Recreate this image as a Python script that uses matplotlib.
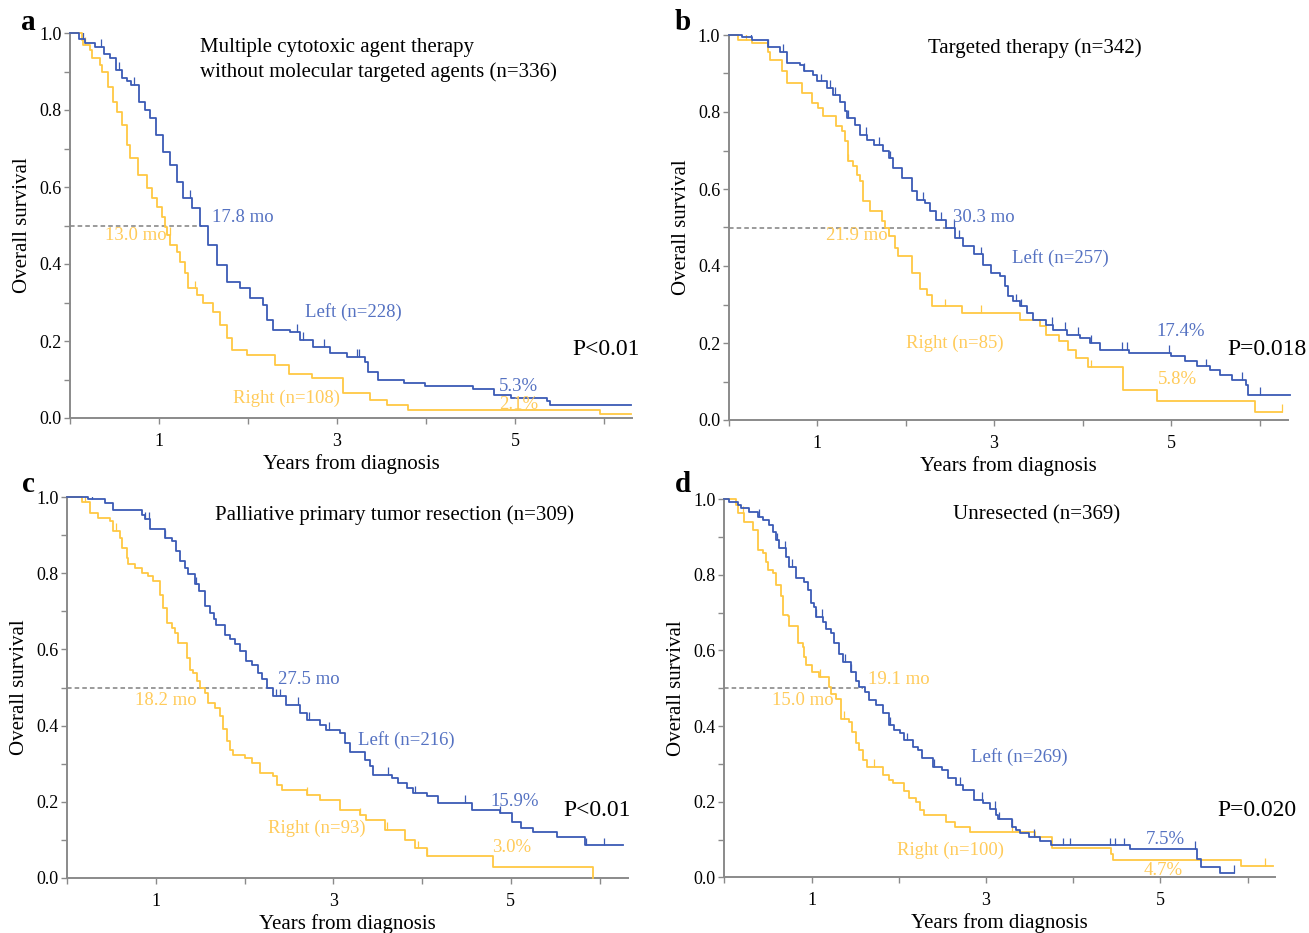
import numpy as np
import matplotlib
matplotlib.use("Agg")
import matplotlib.pyplot as plt
from matplotlib.ticker import FixedLocator

plt.rcParams["font.family"] = ["Liberation Serif", "DejaVu Serif"]

BLUE = "#3b5bb5"
BLUE_TXT = "#5572c2"
YELLOW = "#ffc843"
YELLOW_TXT = "#ffcb5a"

# ---- panel a: multiple cytotoxic agents ----
a_left_t = [0, 0.10, 0.17, 0.28, 0.38, 0.45, 0.52, 0.58, 0.64, 0.69, 0.77, 0.84, 0.90, 0.97, 1.05,
            1.12, 1.20, 1.27, 1.37, 1.46, 1.55, 1.65, 1.76, 1.91, 2.02, 2.17, 2.21, 2.28, 2.47, 2.58,
            2.73, 2.92, 3.11, 3.31, 3.35, 3.46, 3.75, 3.99, 4.53, 4.76, 4.95, 5.36, 5.39]
a_left_s = [1.0, 0.985, 0.973, 0.964, 0.945, 0.934, 0.905, 0.882, 0.875, 0.865, 0.822, 0.800, 0.778,
            0.735, 0.692, 0.657, 0.614, 0.571, 0.545, 0.500, 0.449, 0.397, 0.354, 0.337, 0.311, 0.294,
            0.255, 0.229, 0.224, 0.203, 0.185, 0.170, 0.159, 0.146, 0.120, 0.100, 0.092, 0.083, 0.075,
            0.060, 0.053, 0.045, 0.035]
a_left_cens = [0.15, 0.35, 0.55, 0.72, 1.35, 2.55, 2.62, 2.85, 3.22, 3.25]
a_right_t = [0, 0.13, 0.15, 0.225, 0.243, 0.337, 0.356, 0.43, 0.487, 0.524, 0.58, 0.637, 0.674, 0.768,
             0.861, 0.918, 0.974, 1.03, 1.07, 1.09, 1.124, 1.199, 1.236, 1.292, 1.33, 1.423, 1.498,
             1.61, 1.685, 1.76, 1.816, 1.985, 2.30, 2.46, 2.72, 3.07, 3.37, 3.56, 3.80, 5.95]
a_right_s = [1.0, 0.982, 0.970, 0.956, 0.934, 0.917, 0.900, 0.861, 0.822, 0.795, 0.761, 0.709, 0.675,
             0.632, 0.597, 0.571, 0.549, 0.523, 0.495, 0.476, 0.449, 0.432, 0.406, 0.376, 0.337, 0.320,
             0.298, 0.276, 0.241, 0.207, 0.176, 0.164, 0.138, 0.115, 0.103, 0.064, 0.047, 0.034,
             0.021, 0.010]
a_right_cens = [0.17, 1.12, 1.40]

# ---- panel b: targeted therapy ----
b_left_t = [0, 0.15, 0.26, 0.45, 0.58, 0.66, 0.81, 0.85, 0.96, 1.00, 1.11, 1.18, 1.26, 1.32, 1.34,
            1.43, 1.49, 1.56, 1.64, 1.75, 1.81, 1.86, 1.96, 2.07, 2.13, 2.22, 2.28, 2.35, 2.46, 2.56,
            2.65, 2.77, 2.88, 2.97, 3.07, 3.12, 3.16, 3.22, 3.29, 3.37, 3.44, 3.59, 3.67, 3.82, 3.97,
            4.09, 4.20, 4.52, 5.00, 5.16, 5.29, 5.44, 5.55, 5.69, 5.85, 5.87]
b_left_s = [1.0, 0.995, 0.988, 0.970, 0.957, 0.927, 0.923, 0.906, 0.897, 0.880, 0.862, 0.845, 0.827,
            0.802, 0.784, 0.767, 0.741, 0.728, 0.715, 0.698, 0.680, 0.654, 0.628, 0.594, 0.572, 0.564,
            0.542, 0.520, 0.499, 0.473, 0.451, 0.430, 0.403, 0.382, 0.373, 0.347, 0.321, 0.308, 0.295,
            0.278, 0.261, 0.248, 0.235, 0.222, 0.213, 0.200, 0.183, 0.174, 0.165, 0.152, 0.139, 0.131,
            0.118, 0.105, 0.092, 0.065]
b_left_cens = [0.25, 0.45, 0.62, 0.85, 1.05, 1.15, 1.20, 1.35, 1.55, 1.70, 1.82, 2.20, 2.40, 2.55,
               2.60, 2.85, 3.25, 3.30, 3.65, 3.80, 3.95, 4.10, 4.45, 4.50, 4.98, 5.40, 5.80, 6.00]
b_right_t = [0, 0.11, 0.26, 0.45, 0.47, 0.60, 0.66, 0.83, 0.94, 1.015, 1.07, 1.22, 1.28, 1.32, 1.35,
             1.41, 1.45, 1.49, 1.52, 1.60, 1.73, 1.77, 1.81, 1.88, 1.92, 2.07, 2.16, 2.24, 2.30, 2.64,
             3.29, 3.52, 3.59, 3.74, 3.84, 3.93, 4.06, 4.46, 4.84, 5.95]
b_right_s = [1.0, 0.988, 0.979, 0.957, 0.936, 0.906, 0.875, 0.849, 0.823, 0.810, 0.789, 0.763, 0.750,
             0.724, 0.672, 0.659, 0.637, 0.620, 0.568, 0.542, 0.516, 0.499, 0.477, 0.447, 0.425, 0.382,
             0.339, 0.325, 0.295, 0.278, 0.261, 0.244, 0.222, 0.204, 0.183, 0.161, 0.137, 0.079,
             0.049, 0.021]
b_right_cens = [0.20, 1.35, 2.45, 2.85, 4.10, 6.25]

# ---- panel c: palliative primary tumor resection ----
c_left_t = [0, 0.237, 0.425, 0.519, 0.84, 0.876, 0.932, 1.10, 1.18, 1.22, 1.27, 1.33, 1.36, 1.44,
            1.48, 1.55, 1.61, 1.65, 1.68, 1.78, 1.83, 1.89, 1.95, 2.02, 2.08, 2.15, 2.19, 2.25, 2.32,
            2.47, 2.62, 2.70, 2.85, 2.92, 3.07, 3.13, 3.19, 3.36, 3.41, 3.45, 3.66, 3.73, 3.83, 3.90,
            4.05, 4.18, 4.56, 4.88, 5.01, 5.12, 5.25, 5.52, 5.84]
c_left_s = [1.0, 0.994, 0.985, 0.967, 0.954, 0.941, 0.915, 0.893, 0.884, 0.858, 0.832, 0.814, 0.797,
            0.771, 0.753, 0.714, 0.696, 0.679, 0.665, 0.639, 0.626, 0.613, 0.595, 0.569, 0.560, 0.539,
            0.521, 0.499, 0.477, 0.455, 0.433, 0.416, 0.402, 0.389, 0.380, 0.354, 0.332, 0.310, 0.293,
            0.271, 0.262, 0.249, 0.236, 0.222, 0.214, 0.198, 0.179, 0.170, 0.148, 0.130, 0.121, 0.108,
            0.086]
c_left_cens = [0.28, 0.88, 0.92, 1.10, 1.45, 2.35, 2.40, 2.60, 2.72, 2.95, 3.62, 3.92, 4.48, 4.88,
               5.85, 6.05]
c_right_t = [0, 0.162, 0.256, 0.350, 0.481, 0.519, 0.594, 0.613, 0.669, 0.688, 0.763, 0.838, 0.913,
             0.970, 1.045, 1.08, 1.12, 1.18, 1.21, 1.25, 1.35, 1.38, 1.42, 1.46, 1.50, 1.55, 1.59,
             1.66, 1.72, 1.76, 1.80, 1.83, 1.87, 2.00, 2.08, 2.17, 2.32, 2.36, 2.42, 2.70, 2.85, 3.07,
             3.30, 3.37, 3.58, 3.81, 3.92, 4.05, 4.80, 5.93]
c_right_s = [1.0, 0.988, 0.959, 0.946, 0.937, 0.911, 0.893, 0.867, 0.841, 0.823, 0.814, 0.801, 0.792,
             0.779, 0.744, 0.709, 0.670, 0.657, 0.643, 0.617, 0.578, 0.547, 0.538, 0.516, 0.499, 0.486,
             0.460, 0.447, 0.425, 0.390, 0.359, 0.337, 0.324, 0.315, 0.302, 0.276, 0.267, 0.245, 0.232,
             0.219, 0.206, 0.178, 0.165, 0.152, 0.126, 0.100, 0.078, 0.058, 0.028, 0.0]
c_right_cens = [0.20, 0.55, 2.70, 3.30, 3.60, 3.95, 4.05]

# ---- panel d: unresected ----
d_left_t = [0, 0.058, 0.153, 0.19, 0.287, 0.383, 0.44, 0.516, 0.555, 0.593, 0.631, 0.707, 0.746,
            0.822, 0.918, 0.956, 0.994, 1.03, 1.05, 1.13, 1.17, 1.22, 1.26, 1.32, 1.36, 1.45, 1.51,
            1.55, 1.61, 1.66, 1.74, 1.82, 1.89, 1.95, 2.01, 2.06, 2.16, 2.22, 2.27, 2.39, 2.50, 2.56,
            2.66, 2.74, 2.86, 2.97, 3.05, 3.12, 3.14, 3.30, 3.35, 3.39, 3.49, 3.62, 3.75, 4.65, 5.42,
            5.47, 5.68]
d_left_s = [1.0, 0.994, 0.985, 0.976, 0.967, 0.954, 0.945, 0.932, 0.914, 0.892, 0.870, 0.848, 0.822,
            0.791, 0.782, 0.760, 0.725, 0.716, 0.689, 0.676, 0.658, 0.645, 0.619, 0.592, 0.570, 0.544,
            0.518, 0.504, 0.491, 0.469, 0.456, 0.434, 0.403, 0.390, 0.381, 0.363, 0.346, 0.337, 0.315,
            0.293, 0.284, 0.262, 0.245, 0.231, 0.205, 0.196, 0.182, 0.165, 0.154, 0.134, 0.125, 0.116,
            0.107, 0.095, 0.085, 0.075, 0.048, 0.027, 0.012]
d_left_cens = [0.40, 0.60, 0.70, 0.78, 1.05, 1.12, 1.38, 1.45, 1.90, 2.10, 2.40, 2.70, 2.95, 3.10,
               3.15, 3.30, 3.55, 3.88, 3.96, 4.42, 4.48, 4.58, 5.40, 5.85]
d_right_t = [0, 0.135, 0.153, 0.23, 0.325, 0.383, 0.44, 0.478, 0.497, 0.555, 0.593, 0.650, 0.669,
             0.727, 0.746, 0.841, 0.899, 0.918, 0.937, 1.01, 1.09, 1.20, 1.22, 1.28, 1.34, 1.43, 1.47,
             1.51, 1.55, 1.59, 1.64, 1.82, 1.89, 1.93, 2.06, 2.12, 2.20, 2.24, 2.29, 2.54, 2.64, 2.82,
             3.56, 3.76, 4.44, 4.46, 5.93]
d_right_s = [1.0, 0.985, 0.963, 0.941, 0.919, 0.866, 0.857, 0.835, 0.813, 0.804, 0.773, 0.743, 0.694,
             0.690, 0.664, 0.619, 0.610, 0.584, 0.562, 0.544, 0.531, 0.504, 0.486, 0.473, 0.420, 0.411,
             0.385, 0.354, 0.337, 0.310, 0.293, 0.271, 0.258, 0.249, 0.227, 0.209, 0.200, 0.178, 0.165,
             0.147, 0.134, 0.121, 0.107, 0.077, 0.062, 0.045, 0.030]
d_right_cens = [0.22, 1.10, 1.37, 1.72, 3.30, 6.20]

# end of follow-up for each curve (years)
end_left = [6.30, 6.34, 6.27, 5.85]
end_right = [6.30, 6.25, 5.93, 6.29]

median_mo = [(17.8, 13.0), (30.3, 21.9), (27.5, 18.2), (19.1, 15.0)]
n_total = [336, 342, 309, 369]
n_left = [228, 257, 216, 269]
n_right = [108, 85, 93, 100]
surv5_left = [5.3, 17.4, 15.9, 7.5]
surv5_right = [2.1, 5.8, 3.0, 4.7]
p_text = ["P<0.01", "P=0.018", "P<0.01", "P=0.020"]
titles = ["Multiple cytotoxic agent therapy\nwithout molecular targeted agents (n={})",
          "Targeted therapy (n={})",
          "Palliative primary tumor resection (n={})",
          "Unresected (n={})"]
letters = ["a", "b", "c", "d"]

curves = [
    (a_left_t, a_left_s, a_left_cens, a_right_t, a_right_s, a_right_cens),
    (b_left_t, b_left_s, b_left_cens, b_right_t, b_right_s, b_right_cens),
    (c_left_t, c_left_s, c_left_cens, c_right_t, c_right_s, c_right_cens),
    (d_left_t, d_left_s, d_left_cens, d_right_t, d_right_s, d_right_cens),
]

# layout in pixels: x of year 0, px per year, y of survival 0, px per unit
geom = [(70, 89.0, 418, 385), (728.5, 88.5, 420, 385),
        (67.3, 88.7, 878, 381), (724.3, 87.2, 877.3, 378)]
letter_xy = [(28, 23), (683, 23), (28, 484), (683, 484)]

# label positions (data coords): title, median L, median R, left n, right n, 5y L, 5y R, P
label_pos = [
    dict(title=(1.46, 0.93), mL=(1.60, 0.522), mR=(0.39, 0.473), nL=(2.64, 0.275), nR=(1.83, 0.052),
         pL=(4.82, 0.083), pR=(4.82, 0.034), p=(5.64, 0.179)),
    dict(title=(2.25, 0.966), mL=(2.54, 0.527), mR=(1.10, 0.478), nL=(3.20, 0.421), nR=(2.01, 0.20),
         pL=(4.84, 0.231), pR=(4.85, 0.104), p=(5.64, 0.184)),
    dict(title=(1.66, 0.953), mL=(2.37, 0.52), mR=(0.76, 0.465), nL=(3.28, 0.362), nR=(2.26, 0.131),
         pL=(4.77, 0.202), pR=(4.79, 0.079), p=(5.59, 0.176)),
    dict(title=(2.62, 0.958), mL=(1.65, 0.522), mR=(0.55, 0.467), nL=(2.83, 0.318), nR=(1.98, 0.070),
         pL=(4.83, 0.099), pR=(4.81, 0.019), p=(5.65, 0.176)),
]
# in panel d the longer median is printed in the right-sided colour
median_left_color = [BLUE_TXT, BLUE_TXT, BLUE_TXT, YELLOW_TXT]

W, H = 1309, 933
XMAX = 6.32
fig = plt.figure(figsize=(W / 100, H / 100), dpi=100)


def draw_curve(ax, t, s, end, cens, color):
    t = np.append(np.asarray(t, float), end)
    s = np.append(np.asarray(s, float), s[-1])
    ax.step(t, s, where="post", color=color, lw=1.3, clip_on=False, zorder=3)
    cens = np.asarray(cens, float)
    idx = np.searchsorted(t, cens, side="right") - 1
    y = s[idx]
    ax.vlines(cens, y, y + 0.02, color=color, lw=0.9, zorder=3)


for i in range(4):
    x0, pxy, y0, pyu = geom[i]
    left = x0 / W
    bottom = (H - y0) / H
    ax = fig.add_axes([left, bottom, XMAX * pxy / W, pyu / H])
    ax.set_xlim(0, XMAX)
    ax.set_ylim(0, 1.0)

    lt, ls, lc, rt, rs, rc = curves[i]
    mL, mR = median_mo[i]
    ax.plot([0, max(mL, mR) / 12], [0.5, 0.5], ls=(0, (3, 2)), color="#808080", lw=1.1, zorder=2)
    draw_curve(ax, rt, rs, end_right[i], rc, YELLOW)
    draw_curve(ax, lt, ls, end_left[i], lc, BLUE)

    for side in ["top", "right"]:
        ax.spines[side].set_visible(False)
    for side in ["left", "bottom"]:
        ax.spines[side].set_color("#8a8a8a")
        ax.spines[side].set_linewidth(1.4)

    ax.xaxis.set_major_locator(FixedLocator([1, 3, 5]))
    ax.xaxis.set_minor_locator(FixedLocator([0, 2, 4, 6]))
    ax.set_xticklabels(["1", "3", "5"])
    ax.yaxis.set_major_locator(FixedLocator(np.arange(0, 1.01, 0.2)))
    ax.yaxis.set_minor_locator(FixedLocator(np.arange(0.1, 1.0, 0.2)))
    ax.set_yticklabels([f"{v:.1f}" for v in np.arange(0, 1.01, 0.2)])
    ax.tick_params(which="both", direction="out", length=4.5, width=1.0, color="#8a8a8a")
    ax.tick_params(axis="x", which="both", labelsize=13, pad=6)
    ax.tick_params(axis="y", which="both", labelsize=13, pad=1.5)

    ax.set_xlabel("Years from diagnosis", fontsize=15)
    ax.xaxis.set_label_coords(0.5, -36 / pyu)
    ax.set_ylabel("Overall survival", fontsize=15)
    ax.yaxis.set_label_coords(-38 / (XMAX * pxy), 0.5)

    pos = label_pos[i]
    ax.text(*pos["title"], titles[i].format(n_total[i]), fontsize=15, ha="left", va="center",
            linespacing=1.3)
    ax.text(*pos["mL"], f"{mL:.1f} mo", fontsize=13.5, color=median_left_color[i], ha="left", va="center")
    ax.text(*pos["mR"], f"{mR:.1f} mo", fontsize=13.5, color=YELLOW_TXT, ha="left", va="center")
    ax.text(*pos["nL"], f"Left (n={n_left[i]})", fontsize=13.5, color=BLUE_TXT, ha="left", va="center")
    ax.text(*pos["nR"], f"Right (n={n_right[i]})", fontsize=13.5, color=YELLOW_TXT, ha="left", va="center")
    ax.text(*pos["pL"], f"{surv5_left[i]:.1f}%", fontsize=13.5, color=BLUE_TXT, ha="left", va="center")
    ax.text(*pos["pR"], f"{surv5_right[i]:.1f}%", fontsize=13.5, color=YELLOW_TXT, ha="left", va="center")
    ax.text(*pos["p"], p_text[i], fontsize=17, ha="left", va="center")

    lx, ly = letter_xy[i]
    fig.text(lx / W, 1 - ly / H, letters[i], fontsize=21, fontweight="bold", ha="center", va="center")

fig.savefig("out.png", dpi=100)
